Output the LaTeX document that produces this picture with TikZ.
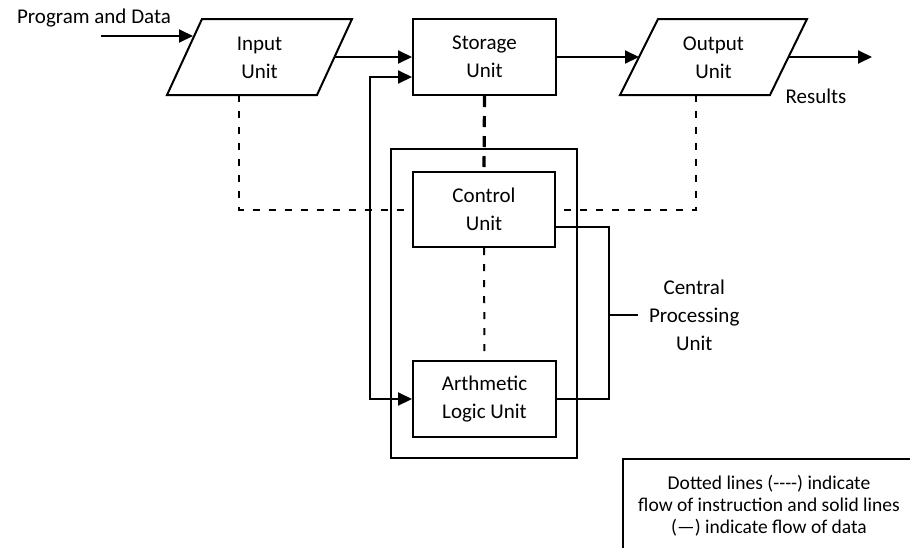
\documentclass[tikz,border=0pt]{standalone}
\usepackage{fontspec}
\setmainfont{Carlito}
\usetikzlibrary{arrows.meta}
\begin{document}
\begin{tikzpicture}[x=1pt,y=-1pt,
  line width=2pt,
  every node/.style={font=\fontsize{21}{28}\selectfont, align=center, inner sep=0pt},
  unitbox/.style={draw, minimum width=143pt, minimum height=76pt},
  tip/.style={-{Triangle[length=14pt,width=13pt]}},
  dashln/.style={dash pattern=on 7pt off 9pt},
  thickdash/.style={line width=3.2pt, dash pattern=on 11pt off 9pt},
  legendbox/.style={draw, minimum width=292pt, minimum height=93pt, font=\fontsize{19.5}{22}\selectfont}
]
\useasboundingbox (0,0) rectangle (910,547);
\clip (0,0) rectangle (910,547);

% units
\node[unitbox] (storage) at (484.5,57) {Storage\\Unit};
\node[draw, minimum width=186pt, minimum height=309pt] (cpu) at (484,303.5) {};
\node[unitbox, minimum width=142pt, minimum height=75pt] (control) at (484,209.5) {Control\\Unit};
\node[unitbox] (alu) at (484.5,399) {Arthmetic\\Logic Unit};

% parallelograms
\draw (202,19) -- (352,19) -- (317,95) -- (167,95) -- cycle;
\node (input) at (259.5,58) {Input\\Unit};
\draw (658,19) -- (807,19) -- (770,95) -- (620,95) -- cycle;
\node (output) at (713.5,58) {Output\\Unit};

\coordinate (inL) at (193,36);
\coordinate (inR) at (335,57);
\coordinate (inB) at (239,95);
\coordinate (outL) at (639,57);
\coordinate (outR) at (788,57);
\coordinate (outB) at (696,95);
\coordinate (pd) at (101,36);
\coordinate (res) at (872,57);
\coordinate (loop) at (370,77);
\coordinate (bus) at (609,315);
\coordinate (cu) at (555,227);

% labels
\node (prog) at (94,18) {Program and Data};
\node (results) at (816,96) {Results};
\node[anchor=west, inner xsep=10pt] (cpulbl) at (638,315) {Central\\Processing\\Unit};
\node[legendbox] (legend) at (769,505.5) {Dotted lines (-{}-{}-{}-) indicate\\flow of instruction and solid lines\\(—) indicate flow of data};

% data flow
\draw[tip] (pd) -- (inL);
\draw[tip] (inR) -- (storage.west);
\draw[tip] (storage.east) -- (outL);
\draw[tip] (outR) -- (res);
\draw[{Triangle[length=14pt,width=13pt]}-{Triangle[length=14pt,width=13pt]}] (storage.west |- loop) -- (loop) -- (loop |- alu.west) -- (alu.west);
\draw (cu) -| (bus) |- (alu.east);
\draw (bus) -- (cpulbl.west);

% instruction flow
\draw[dashln] (inB) |- (control.west);
\draw[dashln] (outB) |- (control.east);
\draw[thickdash] (storage.south) -- (control.north);
\draw[dashln] (control.south) -- (alu.north);
\end{tikzpicture}
\end{document}
